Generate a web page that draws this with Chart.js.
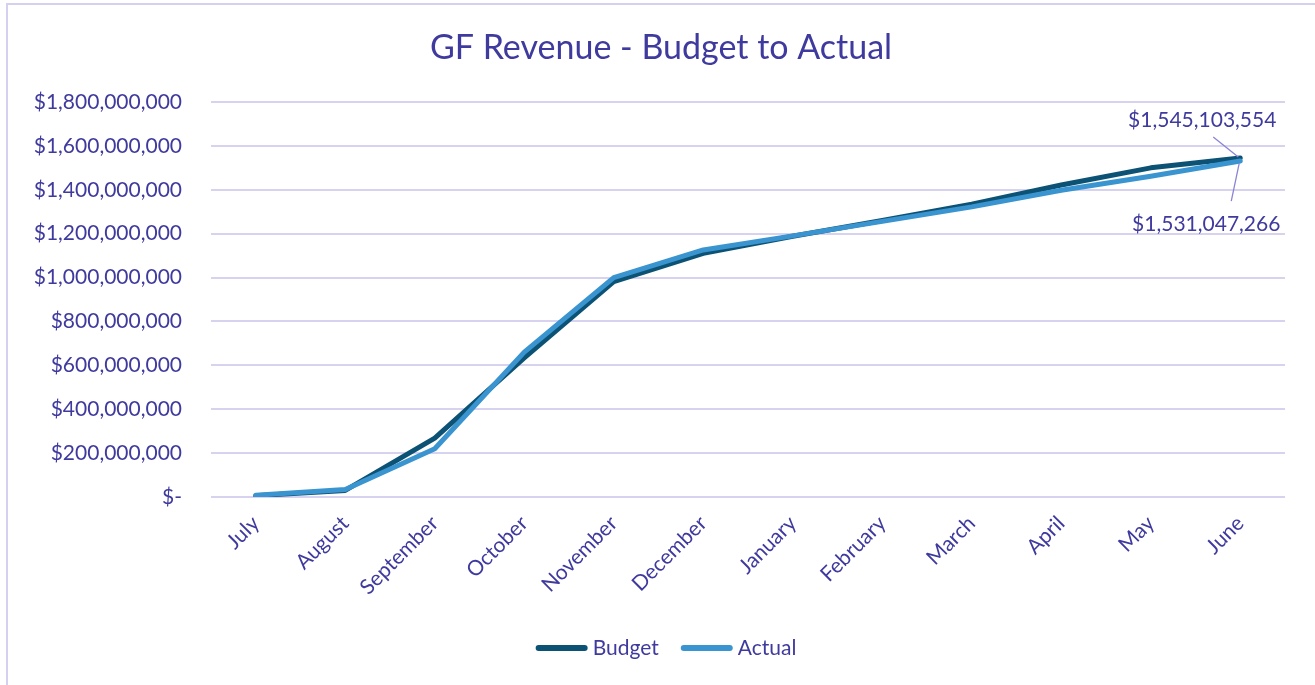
<!DOCTYPE html>
<html>
<head>
<meta charset="utf-8">
<script src="https://cdn.jsdelivr.net/npm/chart.js@4.4.1/dist/chart.umd.min.js"></script>
<style>
  html, body { margin: 0; padding: 0; background: #fff; }
  #wrap { position: absolute; left: 0; top: 0; width: 1315px; height: 685px; }
  #frame { position: absolute; left: 6px; top: 3px; width: 1320px; height: 700px; border: 2px solid #D3D0F0; box-sizing: border-box; pointer-events: none; }
  canvas { position: absolute; left: 0; top: 0; }
</style>
</head>
<body>
<div id="wrap">
  <canvas id="c" width="1315" height="685"></canvas>
  <div id="frame"></div>
</div>
<script>
const months = ["July","August","September","October","November","December","January","February","March","April","May","June"];
const budget = [6000000, 30000000, 268000000, 634000000, 982000000, 1110000000, 1188000000, 1260000000, 1334000000, 1422000000, 1500000000, 1545103554];
const actual = [8000000, 34000000, 220000000, 660000000, 1000000000, 1126000000, 1190000000, 1256000000, 1322000000, 1398000000, 1462000000, 1531047266];
const yTicks = [0, 200000000, 400000000, 600000000, 800000000, 1000000000, 1200000000, 1400000000, 1600000000, 1800000000];
const titleText = 'GF Revenue - Budget to Actual';

const TEXT = '#3F3A9E';
const FONT = 'Lato, "Open Sans", sans-serif';

function money(v) {
  if (v === 0) return '$-';
  return '$' + Math.round(v).toLocaleString('en-US');
}

const decor = {
  id: 'decor',
  afterDatasetsDraw(chart) {
    const ctx = chart.ctx;
    const last = months.length - 1;
    const pb = chart.getDatasetMeta(0).data[last];
    const pa = chart.getDatasetMeta(1).data[last];
    ctx.save();
    ctx.strokeStyle = '#8A84D6';
    ctx.lineWidth = 1.3;
    ctx.beginPath();
    ctx.moveTo(pb.x - 27, pb.y - 21);
    ctx.lineTo(pb.x - 2, pb.y - 1);
    ctx.moveTo(pa.x - 9, pa.y + 40);
    ctx.lineTo(pa.x - 1, pa.y + 2);
    ctx.stroke();
    ctx.fillStyle = TEXT;
    ctx.font = '21px ' + FONT;
    ctx.textAlign = 'center';
    ctx.textBaseline = 'middle';
    ctx.fillText(money(budget[last]), pb.x - 38, pb.y - 38);
    ctx.fillText(money(actual[last]), pa.x - 34, pa.y + 63);
    ctx.restore();
  },
  afterDraw(chart) {
    const ctx = chart.ctx;
    ctx.save();
    ctx.fillStyle = TEXT;
    ctx.font = '34px ' + FONT;
    ctx.textAlign = 'center';
    ctx.textBaseline = 'middle';
    ctx.fillText(titleText, 661, 48);
    ctx.font = '21px ' + FONT;
    ctx.textAlign = 'left';
    const ds = chart.data.datasets;
    const boxW = 52, gap = 5, itemGap = 22, ly = 648;
    const widths = ds.map(d => boxW + gap + ctx.measureText(d.label).width);
    const total = widths.reduce((a, b) => a + b, 0) + itemGap * (ds.length - 1);
    let x = 666 - total / 2;
    ds.forEach((d, i) => {
      ctx.strokeStyle = d.borderColor;
      ctx.lineWidth = 6;
      ctx.lineCap = 'round';
      ctx.beginPath();
      ctx.moveTo(x + 3, ly);
      ctx.lineTo(x + boxW - 3, ly);
      ctx.stroke();
      ctx.fillStyle = TEXT;
      ctx.fillText(d.label, x + boxW + gap, ly);
      x += widths[i] + itemGap;
    });
    ctx.restore();
  }
};

new Chart(document.getElementById('c'), {
  type: 'line',
  data: {
    labels: months,
    datasets: [
      { label: 'Budget', data: budget, borderColor: '#0C5275', backgroundColor: '#0C5275', borderWidth: 5, pointRadius: 0, tension: 0, order: 2, borderCapStyle: 'round', borderJoinStyle: 'round' },
      { label: 'Actual', data: actual, borderColor: '#3A94CF', backgroundColor: '#3A94CF', borderWidth: 5, pointRadius: 0, tension: 0, order: 1, borderCapStyle: 'round', borderJoinStyle: 'round' }
    ]
  },
  options: {
    responsive: false,
    animation: false,
    layout: { padding: { left: 6, right: 30, top: 102, bottom: 0 } },
    plugins: {
      title: { display: false },
      legend: { display: false },
      tooltip: { enabled: false }
    },
    scales: {
      x: {
        offset: true,
        grid: { display: false, drawTicks: false },
        border: { display: false },
        ticks: { color: TEXT, font: { family: FONT, size: 21 }, maxRotation: 45, minRotation: 45, padding: 14 },
        afterFit(scale) { scale.height = 188; }
      },
      y: {
        min: 0,
        max: 1800000000,
        afterBuildTicks(scale) { scale.ticks = yTicks.map(v => ({ value: v })); },
        grid: { color: '#D6D2F0', lineWidth: 2, drawTicks: false },
        border: { display: false },
        ticks: { color: TEXT, font: { family: FONT, size: 21 }, padding: 29, callback: v => money(v) },
        afterFit(scale) { scale.width = 205; }
      }
    }
  },
  plugins: [decor]
});
</script>
</body>
</html>
